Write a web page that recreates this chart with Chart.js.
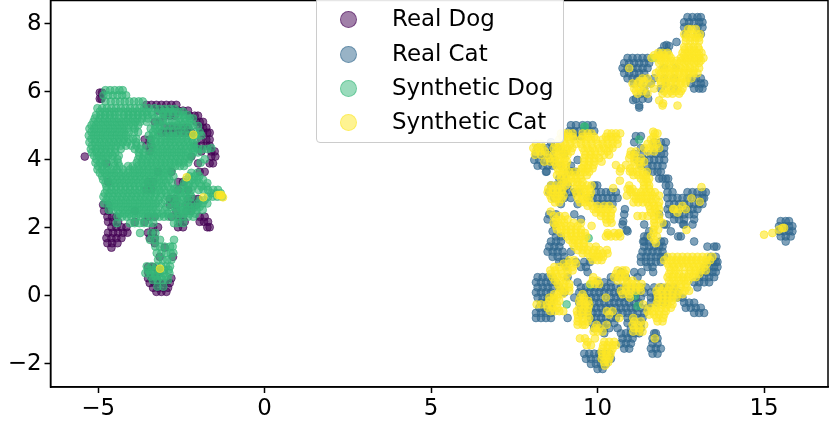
<!DOCTYPE html>
<html>
<head>
<meta charset="utf-8">
<script src="https://cdn.jsdelivr.net/npm/chart.js@4"></script>
<style>
  body { margin: 0; background: #fff; }
  #wrap { position: relative; width: 829px; height: 426px; overflow: hidden; font-family: "DejaVu Sans", sans-serif; }
  #legend { position: absolute; left: 316px; top: -3px; width: 246px; height: 144px; box-sizing: content-box;
    background: rgba(255,255,255,.9); border: 1.5px solid #ccc; border-radius: 4px; }
  #legend div { position: absolute; left: 75px; font-size: 22.9px; line-height: 26px; color: #000; white-space: nowrap; }
  #legend span { position: absolute; width: 15px; height: 15px; left: 23px; border-radius: 50%; box-sizing: content-box; }
</style>
</head>
<body>
<div id="wrap">
  <canvas id="chart" width="829" height="426"></canvas>
  <div id="legend"></div>
</div>
<script>
const xTicks = [-5, 0, 5, 10, 15];
const yTicks = [-2, 0, 2, 4, 6, 8];
const legendNames = ["Real Dog", "Real Cat", "Synthetic Dog", "Synthetic Cat"];
const colors = ["68,1,84", "49,104,142", "53,183,121", "253,231,37"];

// each row is [y, x, x, x ...]
const realDogRows = [
  [5.98,-4.88,-4.95],[5.8,-4.95,-4.9],
  [5.62,-3.55,-3.4,-3.25,-3.1,-2.95,-2.8,-2.65],
  [5.45,-3.2,-3.05,-2.9,-2.75,-2.6,-2.45,-2.3],
  [5.3,-3.0,-2.85,-2.7,-2.25,-2.1,-2.0],
  [5.12,-3.3,-3.15,-2.05,-1.95,-1.85],
  [4.95,-3.0,-2.85,-2.7,-2.55,-2.4,-2.3,-1.95,-1.85,-1.75],
  [4.8,-3.1,-2.95,-2.8,-2.65,-2.5,-2.35,-2.2,-1.85,-1.72,-1.65],
  [4.6,-3.6,-3.45,-1.9,-1.75,-1.65],
  [4.42,-3.55,-3.4,-2.05,-1.9,-1.75,-1.65],
  [4.25,-3.45,-1.9,-1.6,-1.5],
  [4.1,-5.4,-2.2,-1.6,-1.48],
  [3.9,-4.75,-2.0,-1.65,-1.55],
  [3.65,-3.2,-2.8,-1.95,-1.8],
  [3.35,-4.7,-3.5,-3.35,-2.6,-2.45],
  [3.12,-3.55,-3.4,-2.6,-2.3],
  [2.85,-2.85,-2.7,-2.3,-2.15,-2.0],
  [2.68,-4.85,-4.7,-2.85,-2.65,-2.35,-2.2,-2.05],
  [2.5,-4.82,-4.68,-3.9,-2.65,-2.35,-2.2],
  [2.33,-4.72,-4.58,-4.45,-3.5,-3.3,-2.8,-2.6,-2.45,-1.95,-1.8],
  [2.18,-4.7,-4.55,-4.4,-3.9,-3.6,-2.55,-2.4,-1.95,-1.82,-1.7],
  [2.02,-4.6,-4.45,-4.3,-4.15,-3.35,-3.2,-2.6,-2.45,-1.72,-1.65],
  [1.86,-4.7,-4.55,-4.4,-4.25,-4.12,-3.5,-3.35],
  [1.7,-4.75,-4.6,-4.45,-4.3,-3.45,-3.3],
  [1.55,-4.72,-4.58,-4.42,-3.3],[1.42,-4.6,-3.0],
  [1.15,-3.15,-2.75],[0.85,-3.5,-3.35],[0.7,-3.5,-3.2],
  [0.52,-3.5,-3.38,-3.25,-2.8],
  [0.38,-3.45,-3.3,-3.15,-3.0,-2.85],
  [0.24,-3.35,-3.2,-3.05,-2.9],
  [0.12,-3.25,-3.1,-2.95]
];

const realCatRows = [
  [8.2,12.7,12.85,13.0,13.1],[8.05,12.6,12.75,12.9,13.05,13.15],[7.9,12.6,12.75,13.0,13.15],
  [7.7,12.65,13.0,13.1],[7.47,12.37],[7.38,12.07],[7.35,12.0,12.15],[7.2,11.9,12.1],
  [7.0,10.9,11.05,11.2,11.35,11.5],[6.85,10.8,10.95,11.1,11.25,11.4,11.55],
  [6.7,10.75,10.9,11.05,11.2,11.35,11.5,12.0,12.35],[6.55,10.8,10.95,11.1,11.25,11.4],
  [6.4,10.9,11.05,11.2,11.45,11.7,12.0,12.3,12.75,12.95,13.1],
  [6.25,11.1,11.3,11.6,12.05,12.8,12.95,13.1,13.2],[6.1,11.4,11.9,12.3,12.9,13.05,13.15],
  [5.95,11.3,11.45],[5.8,11.15,11.35,11.52],[5.76,11.07],[5.6,11.25],[5.54,11.25],
  [5.02,9.2,9.35,9.55,9.7,9.85],[4.85,9.15,9.3,9.45,9.6,9.75,9.9],
  [4.7,9.3,9.5,11.15,11.3],[4.52,8.6,11.1,11.7,11.9,12.05],
  [4.35,8.2,8.35,8.5,8.65,8.8,11.3,11.7,11.85,12.0],
  [4.18,8.15,8.3,8.45,8.6,9.0,11.1,11.35,11.6,11.75,11.9,12.0],
  [4.0,8.1,8.25,8.4,8.55,8.7,9.4,11.2,11.4,11.55,11.7,11.85,12.0],
  [3.83,8.2,8.35,8.5,8.65,8.9,9.2,11.3,11.5,11.65,11.8,11.95],
  [3.66,8.47,9.22],[3.65,8.45,9.1,9.2,9.35,11.5,11.65,11.8,11.9],[3.45,8.85,9.0,11.85,11.95,12.05,12.12],
  [3.25,8.6,8.75,8.9,9.1,9.9,9.99,12.05,12.15],
  [3.05,8.55,8.7,8.85,9.0,9.15,9.3,9.45,9.95,10.1,10.25,10.4,10.55,12.1,12.25,12.7,12.85,13.0,13.15,13.25],
  [2.88,8.7,8.85,9.0,9.2,9.7,9.85,10,10.15,10.3,10.45,10.6,12.1,12.25,12.4,12.55,12.7,12.85,13.0,13.15,13.2],
  [2.7,8.9,9.4,10.0,10.15,10.3,10.45,12.15,12.3,12.45,12.6,12.75,12.9,13.05,13.15],
  [2.55,10.82,12.1,12.25,12.4,12.55,12.7,12.85,13.0],
  [2.4,8.55,8.75,9.3,10.8,11.85,12.15,12.3,12.45,12.6,12.75,12.9],
  [2.25,8.5,9.5,12.3,12.45,12.6,12.9],[2.19,10.77],[2.1,8.7,10.75,11.4,12.0,12.07,12.57,12.6,12.85],
  [1.94,10.87],[1.9,8.65,10.9,11.55,12.2],[1.75,8.75,8.9,11.4,11.5,12.42,12.5],
  [1.6,8.6,8.75,8.9,11.37,11.4,11.55,11.9,12.0,12.9],
  [1.45,8.55,8.7,8.85,11.4,11.55,11.7,11.85,11.95,13.3,13.5,13.57],
  [1.3,8.5,8.65,8.8,8.95,9.2,11.35,11.5,11.65,11.8,11.95],
  [1.15,8.65,8.8,9.0,11.3,11.45,11.6,11.75,11.9,12.0,13.4,13.55],
  [1.0,8.85,8.97,9.1,9.35,9.6,9.77,11.3,11.45,11.6,11.75,11.9,13.3,13.45,13.55,13.6],
  [0.85,9.05,9.5,9.65,11.5,11.65,13.2,13.35,13.5,13.6],
  [0.7,9.7,10.7,11.1,11.32,11.67,13.15,13.3,13.45,13.55],
  [0.55,8.2,8.35,8.5,8.65,9.1,10.4,10.6,10.85,11.2,13.05,13.2,13.35,13.5],
  [0.4,8.15,8.3,8.45,8.6,8.75,9.4,10.0,10.2,10.4,12.9,13.05,13.2,13.35],
  [0.25,8.2,8.35,8.5,8.65,8.85,9.5,9.65,9.8,9.95,10.1,10.25,10.4,10.55,10.7,10.85,11.0,11.15,11.3,11.45,11.7,11.9,12.1,12.3,13.0],
  [0.1,8.15,8.3,8.45,8.6,9.0,9.45,9.6,9.75,9.9,10.05,10.2,10.35,10.5,10.65,10.8,11.0,11.2,11.4,11.6,11.8,12.0,12.2,12.4],
  [-0.05,8.2,8.35,8.5,8.65,9.3,9.5,9.65,9.8,9.95,10.1,10.25,10.4,10.55,10.7,10.85,11,11.15,11.3,11.6,11.75,11.9,12.05,12.2,12.4,12.55],
  [-0.2,8.3,8.45,8.6,9.45,9.6,9.75,9.9,10.05,10.2,10.35,10.5,10.65,10.8,10.95,11.1,11.25,11.6,11.8,12.0,12.6,12.75,12.9],
  [-0.35,8.25,8.4,8.55,9.5,9.65,9.8,9.95,10.1,10.25,10.4,10.55,10.7,10.85,11,11.15,11.3,11.5,12.65,12.8,12.95,13.1],
  [-0.5,8.15,8.3,8.45,8.6,9.5,9.7,9.85,10,10.15,10.3,10.45,10.6,10.75,10.9,11.05,11.2,11.4,12.9,13.05,13.2],
  [-0.65,8.15,8.3,8.45,8.6,9.1,9.8,9.95,10.1,10.25,10.4,10.55,10.9,11.05,11.2,11.35],
  [-0.8,9.85,10,10.15,10.3,10.5,10.9,11.1,11.3],[-0.95,9.9,10.05,10.2,10.35,10.6,11.0,11.15,11.3],
  [-1.1,10.2,10.7,10.85,11,11.15,11.25,11.7,11.75],[-1.25,10.75,10.9,11.05,11.65,11.8],
  [-1.4,10.7,10.85,11,11.65,11.8],[-1.55,10.8,10.95,11.6,11.75,11.9],
  [-1.7,9.6,9.75,9.9,10.05,10.2,10.35,11.65,11.8],[-1.85,9.65,9.8,9.95,10.1,10.25,10.4],
  [-2.0,9.8,9.95,10.1,10.25],[-2.15,10.0,10.15],
  [2.2,15.5,15.65,15.75],[2.05,15.45,15.6,15.75,15.85],[1.9,15.45,15.6,15.75,15.85],[1.75,15.5,15.65,15.8],[1.6,15.65]
];

const synthDogRows = [
  [6.05,-4.78,-4.64,-4.5,-4.36,-4.26],
  [5.9,-4.84,-4.7,-4.56,-4.42,-4.28,-4.16],
  [5.72,-4.78,-4.62,-4.48,-4.34,-4.2,-4.06,-3.92,-3.78,-3.66],
  [5.52,-5.02,-4.88,-4.74,-4.6,-4.46,-4.32,-4.18,-4.04,-3.9,-3.76,-3.62,-3.48,-3.3],
  [5.5,-3.15,-3.0,-2.85,-2.7],
  [5.42,-4.95,-4.8,-4.66,-4.52,-4.38,-4.24,-4.1,-3.96,-3.82,-3.68,-3.54,-3.4,-3.05,-2.9,-2.75,-2.6,-2.45],
  [5.35,-3.2,-3.05,-2.9,-2.75],
  [5.32,-5.06,-4.92,-4.78,-4.64,-4.48,-4.22,-4.08,-3.94,-3.8,-3.66,-3.52,-3.38,-2.58,-2.44,-2.32],
  [5.22,-5.1,-4.95,-4.8,-4.66,-4.52,-4.38,-4.24,-4.1,-3.96,-3.82,-3.68,-3.5,-3.3,-3.05,-2.55,-2.4,-2.25,-2.15],
  [5.15,-3.05,-2.9,-2.78],
  [5.12,-5.14,-5.0,-4.86,-4.72,-4.58,-4.44,-4.3,-4.16,-4.02,-3.88,-3.74,-3.54,-3.22,-2.66,-2.52,-2.38,-2.26],
  [5.02,-5.2,-5.06,-4.92,-4.78,-4.64,-4.5,-4.36,-4.22,-4.08,-3.94,-3.8,-3.3,-3.15,-2.6,-2.45,-2.25,-2.15],
  [5.0,-3.0,-2.85,-2.72,-2.0],
  [4.92,-5.26,-5.12,-4.98,-4.84,-4.7,-4.56,-4.42,-4.28,-4.14,-3.9,-3.42,-3.28,-3.16,-2.5,-2.3],
  [4.85,-3.05,-2.9,-2.75],
  [4.82,-5.2,-5.06,-4.92,-4.78,-4.64,-4.5,-4.36,-4.22,-4.08,-3.92,-3.8,-3.35,-3.2,-2.6,-2.4,-2.1,-1.95],
  [4.72,-5.28,-5.14,-5.0,-4.86,-4.72,-4.58,-4.44,-4.3,-4.16,-3.48,-3.34,-3.2,-2.62,-2.46,-2.28,-2.08,-1.9],
  [4.7,-3.0,-2.85,-2.75],
  [4.62,-5.2,-5.06,-4.92,-4.78,-4.64,-4.5,-4.36,-4.22,-4.08,-3.95,-3.85,-3.4,-3.25,-3.1,-2.95,-2.8,-2.65,-2.5,-2.35,-2.2,-2.05],
  [4.52,-5.26,-5.1,-4.96,-4.82,-4.68,-4.54,-4.4,-4.26,-4.12,-3.86,-3.42,-3.28,-3.14,-3.0,-2.86,-2.72,-2.58,-2.44,-2.3,-2.16],
  [4.42,-5.18,-5.02,-4.88,-4.74,-4.6,-4.46,-4.32,-4.16,-4.0,-3.85,-3.7,-3.38,-3.24,-3.1,-2.96,-2.82,-2.68,-2.54,-2.4,-2.26,-2.12],
  [4.35,-2.2,-2.12,-1.6],
  [4.32,-5.22,-5.08,-4.94,-4.8,-4.66,-4.5,-4.32,-3.9,-3.76,-3.56,-3.34,-3.2,-3.06,-2.92,-2.78,-2.64,-2.5,-2.36,-2.0,-1.86,-1.72],
  [4.22,-5.18,-5.04,-4.9,-4.76,-4.62,-4.48,-3.78,-3.64,-3.4,-3.27,-3.13,-2.99,-2.85,-2.71,-2.57,-2.43,-2.29,-2.15,-2.0],
  [4.12,-5.12,-4.98,-4.84,-4.7,-4.56,-4.38,-3.76,-3.62,-3.48,-3.34,-3.2,-3.06,-2.92,-2.78,-2.64,-2.5,-2.36,-2.2],
  [4.02,-5.05,-4.9,-4.76,-4.6,-4.42,-3.8,-3.66,-3.52,-3.38,-3.24,-3.1,-2.96,-2.82,-2.68,-2.54,-2.4,-2.26,-1.8],
  [3.92,-5.08,-4.94,-4.8,-4.52,-4.4,-3.84,-3.7,-3.56,-3.42,-3.28,-3.14,-3.0,-2.86,-2.72,-2.58,-2.44,-2.3,-1.92],
  [3.82,-5.0,-4.86,-4.72,-4.5,-4.36,-4.1,-3.96,-3.8,-3.66,-3.52,-3.38,-3.24,-3.1,-2.96,-2.82,-2.68,-2.54,-2.42],
  [3.72,-5.02,-4.88,-4.74,-4.6,-4.44,-4.26,-4.04,-3.9,-3.76,-3.62,-3.48,-3.34,-3.2,-3.06,-2.92,-2.78],
  [3.62,-4.95,-4.8,-4.66,-4.52,-4.38,-4.24,-4.1,-3.96,-3.82,-3.68,-3.54,-3.4,-3.26,-3.12,-2.98,-2.84,-2.2,-2.02],
  [3.52,-4.88,-4.74,-4.6,-4.46,-4.32,-4.18,-4.04,-3.9,-3.76,-3.62,-3.48,-3.34,-3.2,-3.06,-2.92,-2.74,-2.26,-2.1,-1.96],
  [3.42,-4.85,-4.7,-4.56,-4.42,-4.28,-4.14,-4.0,-3.86,-3.72,-3.58,-3.44,-3.3,-3.16,-3.02,-2.86,-2.35,-2.18,-2.02,-1.85],
  [3.32,-4.78,-4.64,-4.5,-4.36,-4.22,-4.08,-3.94,-3.8,-3.66,-3.52,-3.38,-3.24,-3.1,-2.96,-2.78,-2.42,-2.26,-2.1,-1.96,-1.72],
  [3.22,-4.75,-4.6,-4.46,-4.32,-4.18,-4.04,-3.9,-3.76,-3.62,-3.48,-3.34,-3.2,-3.06,-2.9,-2.45,-2.3,-2.15,-1.9,-1.75],
  [3.15,-2.72,-2.65],
  [3.12,-4.74,-4.6,-4.46,-4.32,-4.18,-4.04,-3.9,-3.76,-3.62,-3.46,-3.3,-3.16,-3.02,-2.82,-2.52,-2.36,-2.2,-1.98,-1.84,-1.7,-1.54,-1.4],
  [3.02,-4.8,-4.66,-4.52,-4.38,-4.24,-4.1,-3.96,-3.82,-3.68,-3.54,-3.4,-3.26,-3.1,-2.95,-2.8,-2.7,-2.55,-2.4,-2.25,-1.6,-1.45,-1.32],
  [2.92,-4.84,-4.7,-4.56,-4.42,-4.28,-4.14,-4.0,-3.86,-3.72,-3.58,-3.44,-3.3,-3.14,-2.92,-2.64,-2.5,-2.34,-2.2,-1.7,-1.56,-1.42,-1.28],
  [2.82,-4.75,-4.6,-4.46,-4.32,-4.18,-4.04,-3.9,-3.76,-3.62,-3.48,-3.34,-3.18,-3.0,-2.85,-2.75,-2.62,-2.46,-2.3,-1.95,-1.8],
  [2.72,-4.82,-4.66,-4.52,-4.38,-4.24,-4.1,-3.96,-3.82,-3.68,-3.54,-3.4,-3.26,-3.1,-2.68,-2.54,-2.38,-2.2,-2.0,-1.86,-1.72],
  [2.62,-4.6,-4.46,-4.32,-4.18,-4.04,-3.9,-3.76,-3.62,-3.48,-3.34,-3.18,-2.95,-2.8,-2.7,-2.55,-2.4,-2.25,-2.1,-1.95],
  [2.53,-4.68,-4.54,-4.4,-4.26,-4.12,-3.98,-3.84,-3.7,-3.56,-3.42,-3.26,-3.0,-2.62,-2.48,-2.34,-2.2,-2.04,-1.86],
  [2.42,-4.35,-4.2,-4.06,-3.92,-3.78,-3.64,-3.5,-3.36,-3.22,-3.06,-2.92,-2.78,-2.55,-2.4,-2.25,-2.08],
  [2.33,-4.42,-4.28,-4.14,-4.0,-3.86,-3.72,-3.58,-3.44,-3.3,-3.16,-3.02,-2.88,-2.74,-2.6,-2.46,-2.3,-2.14],
  [2.14,-4.44,-4.04,-3.9,-3.76,-3.62,-3.48,-3.34,-2.72,-2.6,-2.44],
  [1.85,-3.74,-3.4,-3.28],[1.65,-3.44,-3.3,-3.14,-2.72],[1.45,-3.28,-3.14,-3.0,-2.84,-2.76],
  [1.26,-3.24,-3.1,-2.96,-2.82,-2.74],[1.06,-3.2,-3.06,-2.92,-2.8],
  [0.87,-3.54,-3.4,-3.24,-3.1,-2.96,-2.84],[0.77,-3.5,-3.34,-3.18,-3.02,-2.88],[0.67,-3.58,-3.44,-3.3,-3.16,-3.02,-2.86],
  [0.57,-3.42,-3.28,-3.12,-2.96],[0.47,-3.36,-3.22,-3.06,-2.9],[0.27,-3.22,-3.04],
  [4.98,9.6,9.62],[4.6,11.25],[7.0,11.7],[1.7,9.73],[0.33,9.78],[-0.25,9.07],[-0.3,11.2],[0.0,11.12]
];

const synthCatRows = [
  [7.85,12.72,12.82,12.95],[7.7,12.6,12.72,12.85,12.98,13.08],[7.6,12.65,12.8,12.95,13.05],[7.5,12.65,12.78,12.92,13.05],
  [7.32,12.6,12.74,12.88,13.02],[7.25,12.62,12.78,12.9,13.05],[7.15,11.82,11.95,12.1,12.55,12.7,12.84,12.98,13.12],
  [7.08,11.7,11.85,12.0,12.15,12.6,12.75,12.9,13.05],
  [7.0,11.62,11.78,11.9,12.04,12.2,12.5,12.64,12.78,12.92,13.05,13.18],
  [6.92,11.9,12.05,12.2,12.38,12.52,12.68,12.82,12.98,13.1],
  [6.85,11.85,12.0,12.15,12.3,12.45,12.6,12.74,12.9,13.04],
  [6.7,10.95,11.95,12.08,12.22,12.36,12.5,12.64,12.78,12.92,13.05],
  [6.62,11.85,12.0,12.15,12.3,12.45,12.6,12.72,12.88],
  [6.55,11.75,11.9,12.04,12.18,12.32,12.46,12.6,12.74,12.88,13.0],
  [6.4,11.35,11.5,11.84,11.98,12.12,12.26,12.4,12.54,12.68,12.82],
  [6.32,11.25,11.4,11.9,12.05,12.2,12.35,12.5,12.65],
  [6.25,11.05,11.2,11.36,11.6,11.9,12.05,12.2,12.35,12.5,12.64],
  [6.1,11.1,11.24,11.4,11.7,12.05,12.2,12.4,12.55],[6.02,11.15,11.35,12.0,12.2,12.35,12.5],[5.95,11.2,11.5,11.95,12.1,12.25,12.45],
  [5.75,11.85],[5.66,11.97],[5.6,11.95,12.4],
  [4.83,11.67],
  [4.78,8.9,9.0,9.12,9.25,9.55,9.7,9.82,10.3,10.42,10.55,10.68,11.72,11.8],
  [4.68,8.95,9.1,9.25,9.55,9.72,9.9,10.25,10.4,10.55,11.68],
  [4.6,8.85,9.0,9.15,9.3,9.5,9.65,9.8,9.95,10.15,10.3,10.45,10.6,11.6,11.75],
  [4.47,8.15,8.3,8.72,8.88,9.02,9.18,9.34,9.5,9.66,9.82,10.0,10.15,10.3,10.45,10.6,11.5,11.65,11.78],
  [4.35,8.07,8.22,8.35,8.68,8.82,8.96,9.1,9.24,9.55,9.7,9.85,10.05,10.2,10.35,10.45,11.4,11.55,11.7,11.85],
  [4.25,8.14,8.28,8.42,8.75,8.9,9.05,9.2,9.6,9.78,9.92,10.1,10.3,11.0,11.15,11.5,11.7],
  [4.15,8.12,8.3,8.5,8.68,8.82,8.96,9.1,9.64,9.8,9.95,10.2,10.35,10.98,11.1],
  [4.05,8.55,8.72,8.88,9.02,9.6,9.75,9.9,10.05,10.95,11.1,11.3],
  [3.95,8.4,8.58,8.7,8.84,8.98,9.08,9.6,9.75,9.9,10.12,11.1,11.25,11.4],
  [3.85,8.75,8.9,9.05,9.6,9.72,9.88,10.55,10.85,11.1,11.3],
  [3.75,8.8,8.95,9.05,9.52,9.55,9.7,9.85,10.7,10.98,11.25],
  [3.66,10.67,10.97],
  [3.65,8.85,9.0,9.15,9.3,9.5,9.62,9.75,11.05,11.2,11.35,11.48],
  [3.55,8.78,8.92,9.06,9.2,9.34,9.48,9.68,11.08,11.22,11.36,11.46],
  [3.45,8.9,9.05,9.2,9.35,9.5,11.3,11.45,11.55],
  [3.39,10.67],[3.35,8.98,9.12,9.26,9.4,9.55,11.38,11.5],
  [3.25,8.6,8.75,8.9,9.05,9.38,9.52,9.68,9.82,10.95,11.4,11.55],
  [3.2,13.12],[3.17,10.47],[3.12,10.97],
  [3.15,8.52,8.66,8.8,8.95,9.3,9.45,9.6,9.75,10.9,11.05,11.38,11.55],
  [3.05,8.5,8.65,8.8,8.92,9.35,9.5,9.65,9.8,11.0,11.15,11.3,11.45,11.6,11.72],
  [2.95,8.58,8.72,8.85,8.98,9.38,9.52,9.65,9.76,10.88,11.08,11.22,11.36,11.5,11.65,11.85],
  [2.87,12.82],[2.85,8.62,8.78,8.92,9.42,9.56,9.7,11.15,11.3,11.45,11.6,11.75],
  [2.77,13.07],[2.75,8.72,8.85,9.48,9.62,9.76,11.08,11.22,11.36,11.5,11.65,11.85],
  [2.65,9.7,9.85,10.0,10.2,10.35,11.55,11.7,11.82,12.55],
  [2.56,12.27],[2.55,9.88,10.02,10.16,10.3,10.45,11.58,11.72,11.85,12.3,12.45,12.65],
  [2.48,8.59],[2.45,9.95,10.1,10.25,10.4,11.6,11.75,12.4],
  [2.35,8.68,8.85,9.02,10.1,10.24,10.4,11.2,11.35,11.5,11.7,11.85],
  [2.25,8.75,8.92,9.1,10.25,10.38,11.7,11.85],
  [2.15,8.68,8.82,9.0,9.28,9.5,10.28,10.42,11.7,11.95],
  [2.06,9.82],[2.05,8.75,8.9,9.05,9.2,9.4,11.72],
  [1.95,8.78,8.92,9.06,9.2,9.35,9.5,11.68,11.82],[1.94,12.67],
  [1.85,8.9,9.05,9.2,9.35,9.5,9.62,10.3,10.5,10.65,11.68],
  [1.8,10.32],[1.82,10.62],
  [1.75,9.08,9.22,9.36,9.5,9.66,10.25,10.4,10.55,10.68,11.6,11.78],
  [1.65,9.15,9.3,9.45,9.6,11.7],
  [1.55,9.25,9.4,9.58,11.75],[1.45,9.3,9.45,9.6,9.75,9.95],
  [1.35,9.4,9.55,9.7,9.9,10.05,10.28],[1.25,9.55,9.7,9.85,10.0,10.15,10.3],
  [1.15,9.78,9.92,10.05,10.17,12.1,12.25,12.4,12.55,12.7,12.85,13.0,13.15,13.3,13.45],
  [1.05,9.15,9.3,9.85,10.0,10.12,12.0,12.2,12.35,12.5,12.65,12.8,12.95,13.1,13.25,13.38],
  [0.95,8.98,9.15,9.35,12.1,12.25,12.4,12.55,12.7,12.85,13.0,13.15,13.28],
  [0.85,8.7,8.85,9.05,9.25,12.15,12.3,12.45,12.6,12.75,12.9,13.05,13.2],
  [0.75,8.58,8.72,8.9,9.1,9.25,10.6,10.75,10.85,12.2,12.35,12.8,12.95,13.1,13.25],
  [0.65,8.6,8.75,8.92,9.1,10.55,10.7,10.82,12.15,12.3,12.45,12.6,12.75,12.9,13.05],
  [0.55,8.65,8.8,8.98,9.87,10.5,10.65,10.82,12.1,12.25,12.4,12.55,12.7,12.85,12.95],
  [0.45,8.72,8.88,9.05,9.85,10.0,10.6,10.75,10.9,11.05,12.15,12.3,12.45,12.6,12.72],
  [0.35,8.8,8.98,9.15,9.78,9.92,10.05,10.88,11.02,11.16,11.32,12.2,12.35,12.5,12.65],
  [0.25,8.85,9.0,9.15,10.85,11.0,11.15,11.28,11.85,12.0,12.15,12.3,12.5,12.68],
  [0.15,8.88,9.02,9.15,10.7,10.85,11.0,11.15,11.3,11.77,11.92,12.1,12.25,12.45,12.62,12.75],
  [0.05,8.7,8.82,8.95,9.55,10.75,10.95,11.8,11.95,12.1,12.25,12.4,12.55],
  [-0.05,8.55,8.68,8.78,9.48,9.6,10.25,10.97,11.82,11.95,12.1,12.25,12.37],
  [-0.15,8.55,8.7,8.85,9.45,9.58,9.72,11.8,11.95,12.1,12.22],
  [-0.25,8.17,8.3,8.48,8.62,8.78,9.5,9.62,9.75,11.37,11.77,11.95,12.1,12.25],
  [-0.35,8.5,8.65,8.8,9.45,9.6,9.72,11.6,11.75,11.9,12.05,12.2],
  [-0.45,8.58,8.72,8.85,8.97,9.38,9.55,9.7,10.28,10.45,11.5,11.65,11.85,12.05],
  [-0.55,9.4,9.55,9.7,10.35,11.55,11.7,11.85,12.0],
  [-0.65,9.42,9.55,9.75,10.65,11.07,11.77,11.97],
  [-0.75,9.4,9.55,9.7,11.1,11.3,11.8,11.95],
  [-0.85,9.4,9.55,9.62,9.97,10.27,11.05,11.2,11.4],
  [-0.95,9.92,10.05,11.1,11.25],
  [-1.05,9.88,10.0,10.15,11.07,11.25,11.35],
  [-1.25,9.47,9.62,9.92,11.72],[-1.35,9.7,10.2,10.35,10.5],[-1.45,9.67,9.8,10.17,10.3,10.45,10.55],
  [-1.55,10.15,10.3,10.45],[-1.65,10.12,10.25,10.4],[-1.75,10.15,10.28,10.38],[-1.85,10.12,10.25,10.35],[-1.95,10.2,10.32],[-2.05,10.22],
  [2.0,15.6,15.55],[1.95,15.45],[1.85,15.25],[1.8,15.0],
  [4.74,-2.14],[3.49,-2.34],[2.9,-1.84],[2.97,-1.34,-1.3,-1.4],[2.9,-1.25],[0.8,-3.14]
];

const toPoints = rows => rows.flatMap(([y, ...xs]) => xs.map(x => ({ x, y })));
const allRows = [realDogRows, realCatRows, synthDogRows, synthCatRows];

const legendEl = document.getElementById("legend");
const legendY = [21, 56, 90, 124];
legendNames.forEach((name, i) => {
  const mark = document.createElement("span");
  mark.style.top = (legendY[i] - 8) + "px";
  mark.style.background = `rgba(${colors[i]},.5)`;
  mark.style.border = `1.5px solid rgba(${colors[i]},.5)`;
  const label = document.createElement("div");
  label.style.top = (legendY[i] - 14) + "px";
  label.textContent = name;
  legendEl.append(mark, label);
});

const frame = {
  id: "frame",
  afterDraw(chart) {
    const { ctx, chartArea: a } = chart;
    ctx.save();
    ctx.strokeStyle = "#000";
    ctx.lineWidth = 1.5;
    ctx.strokeRect(a.left, a.top, a.right - a.left, a.bottom - a.top);
    ctx.restore();
  }
};

const minus = v => String(v).replace("-", "\u2212");
const tickFont = { family: "DejaVu Sans", size: 22.9 };

new Chart(document.getElementById("chart"), {
  type: "scatter",
  data: {
    datasets: allRows.map((rows, i) => ({
      label: legendNames[i],
      order: -i, // later sets sit on top, as in the picture
      data: toPoints(rows),
      backgroundColor: `rgba(${colors[i]},.62)`,
      borderColor: `rgba(${colors[i]},.62)`,
      borderWidth: 1,
      pointRadius: 3.9
    }))
  },
  options: {
    responsive: false,
    animation: false,
    layout: { autoPadding: false, padding: { top: 0.5, right: 1, left: 0, bottom: 0 } },
    plugins: { legend: { display: false }, tooltip: { enabled: false } },
    scales: {
      x: {
        min: -6.43, max: 16.92,
        afterBuildTicks: s => { s.ticks = xTicks.map(value => ({ value })); },
        afterFit: s => { s.height = 39; s.paddingLeft = 0; s.paddingRight = 0; },
        grid: { drawOnChartArea: false, tickColor: "#000", tickLength: 6, tickWidth: 1.5 },
        border: { color: "#000", width: 1.5 },
        ticks: { color: "#000", font: tickFont, padding: 2, maxRotation: 0, callback: minus }
      },
      y: {
        min: -2.68, max: 8.69,
        afterBuildTicks: s => { s.ticks = yTicks.map(value => ({ value })); },
        afterFit: s => { s.width = 50.5; s.paddingTop = 0; s.paddingBottom = 0; },
        grid: { drawOnChartArea: false, tickColor: "#000", tickLength: 6, tickWidth: 1.5 },
        border: { color: "#000", width: 1.5 },
        ticks: { color: "#000", font: tickFont, padding: 3, callback: minus }
      }
    }
  },
  plugins: [frame]
});
</script>
</body>
</html>
